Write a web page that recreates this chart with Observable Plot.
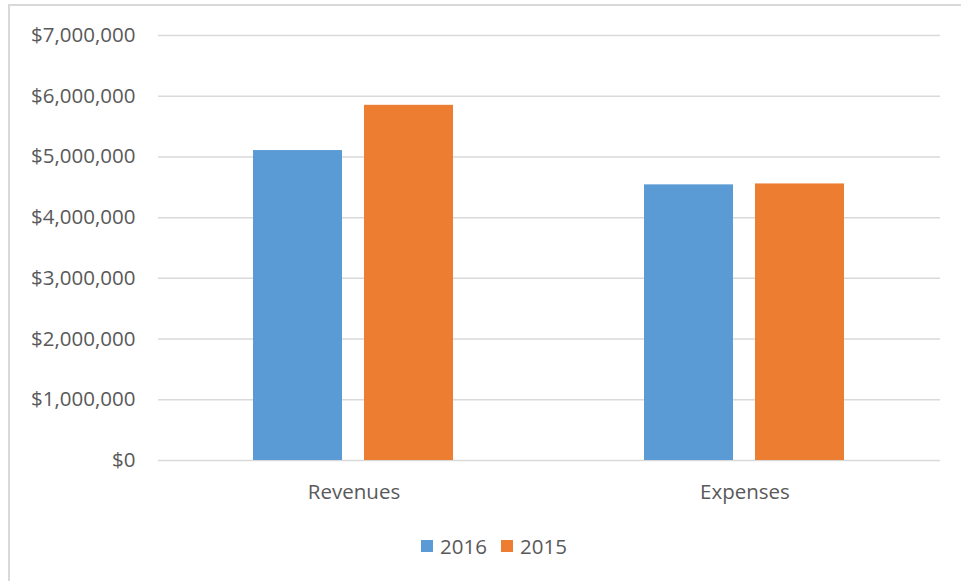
<!DOCTYPE html>
<html>
<head>
<meta charset="utf-8">
<script src="https://cdn.jsdelivr.net/npm/d3@7"></script>
<script src="https://cdn.jsdelivr.net/npm/@observablehq/plot@0.6"></script>
<style>
  html, body { margin: 0; padding: 0; background: #fff; overflow: hidden; width: 961px; height: 581px; }
  #frame { position: absolute; left: 8px; top: 4px; width: 1100px; height: 700px; border: 2px solid #d9d9d9; box-sizing: border-box; }
  #chart { position: absolute; left: 0; top: 0; }
  #legend { position: absolute; top: 532px; left: 0; width: 988px; display: flex; justify-content: center; gap: 14px;
            font-family: "Open Sans", sans-serif; font-size: 20.5px; color: #595959; }
  .item { display: flex; align-items: center; gap: 7px; }
  .sw { width: 12px; height: 12px; display: inline-block; }
</style>
</head>
<body>
<div id="frame"></div>
<div id="chart"></div>
<div id="legend"></div>
<script>
const categories = ["Revenues", "Expenses"];
const years = ["2016", "2015"];
const values2016 = [5105000, 4540000];
const values2015 = [5850000, 4555000];
const colors = ["#5b9bd5", "#ed7d31"];
const yTicks = [0, 1000000, 2000000, 3000000, 4000000, 5000000, 6000000, 7000000];

const data = [];
categories.forEach((c, i) => {
  data.push({category: c, year: years[0], value: values2016[i]});
  data.push({category: c, year: years[1], value: values2015[i]});
});

const fmt = d => "$" + d3.format(",")(d);

const chart = Plot.plot({
  width: 961,
  height: 510,
  marginLeft: 158,
  marginRight: 21,
  marginTop: 35,
  marginBottom: 50,
  style: {fontFamily: "'Open Sans', sans-serif", fontSize: "20.5px", color: "#595959", background: "transparent"},
  fx: {domain: categories, padding: 0, label: null, axis: "bottom", tickSize: 0, tickPadding: 24},
  x: {domain: years, paddingInner: 0.198, paddingOuter: 0.86, axis: null},
  y: {domain: [0, 7000000], ticks: yTicks, tickFormat: fmt, tickSize: 0, tickPadding: 23, label: null, axis: "left"},
  color: {domain: years, range: colors},
  marks: [
    Plot.ruleY(yTicks, {stroke: "#d9d9d9", strokeWidth: 1.5}),
    Plot.barY(data, {fx: "category", x: "year", y: "value", fill: "year"})
  ]
});
document.getElementById("chart").appendChild(chart);

const legend = document.getElementById("legend");
years.forEach((y, i) => {
  const item = document.createElement("div");
  item.className = "item";
  const sw = document.createElement("span");
  sw.className = "sw";
  sw.style.background = colors[i];
  const t = document.createElement("span");
  t.textContent = y;
  item.appendChild(sw);
  item.appendChild(t);
  legend.appendChild(item);
});
</script>
</body>
</html>
